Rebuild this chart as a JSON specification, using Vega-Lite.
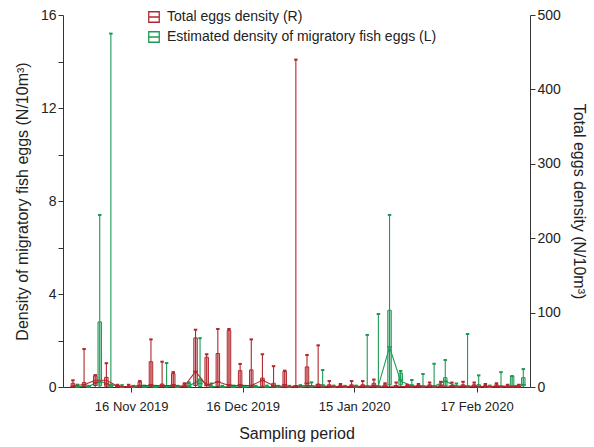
{
  "$schema": "https://vega.github.io/schema/vega-lite/v6.json",
  "width": 467,
  "height": 372,
  "autosize": "none",
  "padding": {"left": 63, "top": 15, "right": 64, "bottom": 60},
  "background": "white",
  "datasets": {
    "eggs": [
      {"d": "2019-11-01", "s": "R", "lo": 0, "q1": 0, "md": 1, "q3": 5, "hi": 9, "mn": 2},
      {"d": "2019-11-04", "s": "R", "lo": 0, "q1": 1, "md": 3, "q3": 6, "hi": 51, "mn": 3},
      {"d": "2019-11-07", "s": "R", "lo": 0, "q1": 2, "md": 6, "q3": 15, "hi": 16, "mn": 9},
      {"d": "2019-11-10", "s": "R", "lo": 0, "q1": 1, "md": 4, "q3": 13, "hi": 32, "mn": 9},
      {"d": "2019-11-13", "s": "R", "lo": 0, "q1": 0, "md": 1, "q3": 2, "hi": 3, "mn": 1},
      {"d": "2019-11-16", "s": "R", "lo": 0, "q1": 0, "md": 0.5, "q3": 1, "hi": 3, "mn": 0.5},
      {"d": "2019-11-19", "s": "R", "lo": 0, "q1": 0, "md": 2, "q3": 7, "hi": 8, "mn": 2},
      {"d": "2019-11-22", "s": "R", "lo": 0, "q1": 1, "md": 3, "q3": 34, "hi": 64, "mn": 2},
      {"d": "2019-11-25", "s": "R", "lo": 0, "q1": 0, "md": 2, "q3": 4, "hi": 34, "mn": 2},
      {"d": "2019-11-28", "s": "R", "lo": 0, "q1": 1, "md": 3, "q3": 18, "hi": 20, "mn": 2},
      {"d": "2019-12-01", "s": "R", "lo": 0, "q1": 0, "md": 1, "q3": 3, "hi": 5, "mn": 1},
      {"d": "2019-12-04", "s": "R", "lo": 0, "q1": 2, "md": 21, "q3": 66, "hi": 77, "mn": 21},
      {"d": "2019-12-07", "s": "R", "lo": 0, "q1": 3, "md": 2, "q3": 40, "hi": 44, "mn": 2},
      {"d": "2019-12-10", "s": "R", "lo": 0, "q1": 1, "md": 7, "q3": 45, "hi": 78, "mn": 7},
      {"d": "2019-12-13", "s": "R", "lo": 0, "q1": 1, "md": 3, "q3": 76, "hi": 78, "mn": 2},
      {"d": "2019-12-16", "s": "R", "lo": 0, "q1": 1, "md": 3, "q3": 22, "hi": 31, "mn": 2},
      {"d": "2019-12-19", "s": "R", "lo": 0, "q1": 0, "md": 2, "q3": 23, "hi": 64, "mn": 2},
      {"d": "2019-12-22", "s": "R", "lo": 0, "q1": 1, "md": 9, "q3": 12, "hi": 44, "mn": 9},
      {"d": "2019-12-25", "s": "R", "lo": 0, "q1": 0, "md": 2, "q3": 5, "hi": 28, "mn": 2},
      {"d": "2019-12-28", "s": "R", "lo": 0, "q1": 1, "md": 3, "q3": 21, "hi": 22, "mn": 1},
      {"d": "2019-12-31", "s": "R", "lo": 0, "q1": 0, "md": 1, "q3": 2, "hi": 440, "mn": 1},
      {"d": "2020-01-03", "s": "R", "lo": 0, "q1": 2, "md": 5, "q3": 27, "hi": 43, "mn": 2},
      {"d": "2020-01-06", "s": "R", "lo": 0, "q1": 1, "md": 3, "q3": 4, "hi": 56, "mn": 1},
      {"d": "2020-01-09", "s": "R", "lo": 0, "q1": 0, "md": 1, "q3": 3, "hi": 8, "mn": 1},
      {"d": "2020-01-12", "s": "R", "lo": 0, "q1": 0, "md": 0.5, "q3": 2, "hi": 4, "mn": 0.5},
      {"d": "2020-01-15", "s": "R", "lo": 0, "q1": 0, "md": 1, "q3": 3, "hi": 8, "mn": 1},
      {"d": "2020-01-18", "s": "R", "lo": 0, "q1": 0, "md": 1, "q3": 3, "hi": 8, "mn": 1},
      {"d": "2020-01-21", "s": "R", "lo": 0, "q1": 0, "md": 2, "q3": 5, "hi": 10, "mn": 1},
      {"d": "2020-01-24", "s": "R", "lo": 0, "q1": 0, "md": 1, "q3": 3, "hi": 5, "mn": 1},
      {"d": "2020-01-27", "s": "R", "lo": 0, "q1": 0, "md": 1, "q3": 2, "hi": 6, "mn": 1},
      {"d": "2020-01-30", "s": "R", "lo": 0, "q1": 0, "md": 0.5, "q3": 2, "hi": 3, "mn": 0.5},
      {"d": "2020-02-02", "s": "R", "lo": 0, "q1": 0, "md": 1, "q3": 2, "hi": 4, "mn": 1},
      {"d": "2020-02-05", "s": "R", "lo": 0, "q1": 0, "md": 1, "q3": 3, "hi": 6, "mn": 1},
      {"d": "2020-02-08", "s": "R", "lo": 0, "q1": 0, "md": 1, "q3": 3, "hi": 7, "mn": 1},
      {"d": "2020-02-11", "s": "R", "lo": 0, "q1": 0, "md": 1, "q3": 2, "hi": 6, "mn": 1},
      {"d": "2020-02-14", "s": "R", "lo": 0, "q1": 0, "md": 1, "q3": 3, "hi": 7, "mn": 1},
      {"d": "2020-02-17", "s": "R", "lo": 0, "q1": 0, "md": 1, "q3": 3, "hi": 6, "mn": 1},
      {"d": "2020-02-20", "s": "R", "lo": 0, "q1": 0, "md": 0.5, "q3": 2, "hi": 4, "mn": 0.5},
      {"d": "2020-02-23", "s": "R", "lo": 0, "q1": 0, "md": 1, "q3": 3, "hi": 5, "mn": 1},
      {"d": "2020-02-26", "s": "R", "lo": 0, "q1": 0, "md": 0.5, "q3": 1, "hi": 3, "mn": 0.5},
      {"d": "2020-02-29", "s": "R", "lo": 0, "q1": 0, "md": 0.5, "q3": 1, "hi": 3, "mn": 0.5},

      {"d": "2019-11-01", "s": "L", "lo": 0, "q1": 0, "md": 0, "q3": 0.03, "hi": 0.1, "mn": 0.02},
      {"d": "2019-11-04", "s": "L", "lo": 0, "q1": 0, "md": 0, "q3": 0.02, "hi": 0.05, "mn": 0.02},
      {"d": "2019-11-07", "s": "L", "lo": 0, "q1": 0.05, "md": 0.2, "q3": 2.8, "hi": 7.4, "mn": 0.25},
      {"d": "2019-11-10", "s": "L", "lo": 0, "q1": 0, "md": 0.05, "q3": 0.1, "hi": 15.2, "mn": 0.1},
      {"d": "2019-11-13", "s": "L", "lo": 0, "q1": 0, "md": 0, "q3": 0.02, "hi": 0.08, "mn": 0.02},
      {"d": "2019-11-16", "s": "L", "lo": 0, "q1": 0, "md": 0, "q3": 0.02, "hi": 0.05, "mn": 0.01},
      {"d": "2019-11-19", "s": "L", "lo": 0, "q1": 0, "md": 0, "q3": 0.02, "hi": 0.06, "mn": 0.02},
      {"d": "2019-11-22", "s": "L", "lo": 0, "q1": 0, "md": 0, "q3": 0.02, "hi": 0.05, "mn": 0.01},
      {"d": "2019-11-25", "s": "L", "lo": 0, "q1": 0, "md": 0.02, "q3": 0.05, "hi": 1.03, "mn": 0.03},
      {"d": "2019-11-28", "s": "L", "lo": 0, "q1": 0, "md": 0, "q3": 0.02, "hi": 0.05, "mn": 0.01},
      {"d": "2019-12-01", "s": "L", "lo": 0, "q1": 0, "md": 0.02, "q3": 0.15, "hi": 0.2, "mn": 0.05},
      {"d": "2019-12-04", "s": "L", "lo": 0, "q1": 0.02, "md": 0.15, "q3": 0.35, "hi": 2.1, "mn": 0.3},
      {"d": "2019-12-07", "s": "L", "lo": 0, "q1": 0, "md": 0.02, "q3": 0.05, "hi": 0.15, "mn": 0.03},
      {"d": "2019-12-10", "s": "L", "lo": 0, "q1": 0, "md": 0, "q3": 0.02, "hi": 0.05, "mn": 0.01},
      {"d": "2019-12-13", "s": "L", "lo": 0, "q1": 0, "md": 0, "q3": 0.02, "hi": 0.06, "mn": 0.01},
      {"d": "2019-12-16", "s": "L", "lo": 0, "q1": 0, "md": 0, "q3": 0.02, "hi": 0.05, "mn": 0.01},
      {"d": "2019-12-19", "s": "L", "lo": 0, "q1": 0, "md": 0, "q3": 0.02, "hi": 0.05, "mn": 0.01},
      {"d": "2019-12-22", "s": "L", "lo": 0, "q1": 0, "md": 0, "q3": 0.02, "hi": 0.06, "mn": 0.01},
      {"d": "2019-12-25", "s": "L", "lo": 0, "q1": 0, "md": 0, "q3": 0.02, "hi": 0.05, "mn": 0.01},
      {"d": "2019-12-28", "s": "L", "lo": 0, "q1": 0, "md": 0, "q3": 0.02, "hi": 0.05, "mn": 0.01},
      {"d": "2019-12-31", "s": "L", "lo": 0, "q1": 0, "md": 0, "q3": 0.02, "hi": 0.08, "mn": 0.01},
      {"d": "2020-01-03", "s": "L", "lo": 0, "q1": 0, "md": 0.02, "q3": 0.05, "hi": 0.2, "mn": 0.02},
      {"d": "2020-01-06", "s": "L", "lo": 0, "q1": 0, "md": 0.02, "q3": 0.1, "hi": 0.73, "mn": 0.03},
      {"d": "2020-01-09", "s": "L", "lo": 0, "q1": 0, "md": 0, "q3": 0.02, "hi": 0.06, "mn": 0.01},
      {"d": "2020-01-12", "s": "L", "lo": 0, "q1": 0, "md": 0, "q3": 0.02, "hi": 0.05, "mn": 0.01},
      {"d": "2020-01-15", "s": "L", "lo": 0, "q1": 0, "md": 0, "q3": 0.02, "hi": 0.06, "mn": 0.01},
      {"d": "2020-01-18", "s": "L", "lo": 0, "q1": 0, "md": 0.02, "q3": 0.05, "hi": 2.24, "mn": 0.03},
      {"d": "2020-01-21", "s": "L", "lo": 0, "q1": 0, "md": 0.02, "q3": 0.05, "hi": 3.14, "mn": 0.05},
      {"d": "2020-01-24", "s": "L", "lo": 0, "q1": 0.1, "md": 1.72, "q3": 3.3, "hi": 7.4, "mn": 1.72},
      {"d": "2020-01-27", "s": "L", "lo": 0, "q1": 0.1, "md": 0.3, "q3": 0.6, "hi": 0.69, "mn": 0.25},
      {"d": "2020-01-30", "s": "L", "lo": 0, "q1": 0, "md": 0.05, "q3": 0.1, "hi": 0.3, "mn": 0.05},
      {"d": "2020-02-02", "s": "L", "lo": 0, "q1": 0, "md": 0.02, "q3": 0.05, "hi": 0.56, "mn": 0.03},
      {"d": "2020-02-05", "s": "L", "lo": 0, "q1": 0, "md": 0.02, "q3": 0.05, "hi": 1.0, "mn": 0.03},
      {"d": "2020-02-08", "s": "L", "lo": 0, "q1": 0.05, "md": 0.25, "q3": 0.4, "hi": 1.16, "mn": 0.25},
      {"d": "2020-02-11", "s": "L", "lo": 0, "q1": 0, "md": 0.02, "q3": 0.05, "hi": 0.15, "mn": 0.03},
      {"d": "2020-02-14", "s": "L", "lo": 0, "q1": 0, "md": 0.02, "q3": 0.05, "hi": 2.28, "mn": 0.03},
      {"d": "2020-02-17", "s": "L", "lo": 0, "q1": 0, "md": 0.02, "q3": 0.1, "hi": 0.5, "mn": 0.03},
      {"d": "2020-02-20", "s": "L", "lo": 0, "q1": 0, "md": 0, "q3": 0.02, "hi": 0.06, "mn": 0.01},
      {"d": "2020-02-23", "s": "L", "lo": 0, "q1": 0, "md": 0.02, "q3": 0.05, "hi": 0.64, "mn": 0.03},
      {"d": "2020-02-26", "s": "L", "lo": 0, "q1": 0, "md": 0.05, "q3": 0.47, "hi": 0.47, "mn": 0.05},
      {"d": "2020-02-29", "s": "L", "lo": 0, "q1": 0.05, "md": 0.1, "q3": 0.4, "hi": 0.77, "mn": 0.1}
    ]
  },
  "data": {"name": "eggs"},
  "encoding": {
    "x": {
      "field": "d",
      "type": "temporal",
      "scale": {"type": "utc", "domain": ["2019-10-30", "2020-03-01"]},
      "axis": {
        "values": ["2019-11-16", "2019-12-16", "2020-01-15", "2020-02-17"],
        "format": "%d %b %Y",
        "labelFontSize": 13,
        "labelPadding": 8,
        "titlePadding": 12
      },
      "title": "Sampling period"
    },
    "color": {
      "field": "s",
      "type": "nominal",
      "scale": {"domain": ["R", "L"], "range": ["#b0282e", "#1c9a55"]},
      "legend": {
        "orient": "none",
        "legendX": 84,
        "legendY": -5,
        "title": null,
        "symbolType": "M-1,-1H1V1H-1Z M-1,0H1",
        "symbolSize": 110,
        "symbolStrokeWidth": 1.3,
        "symbolFillColor": "transparent",
        "labelFontSize": 14,
        "labelColor": "#222",
        "labelLimit": 0,
        "labelOffset": 6,
        "rowPadding": 4,
        "labelExpr": "datum.value == 'R' ? 'Total eggs density (R)' : 'Estimated density of migratory fish eggs (L)'"
      }
    }
  },
  "layer": [
    {
      "transform": [{"filter": "datum.s == 'L'"}],
      "layer": [
        {
          "mark": {"type": "rule", "xOffset": 2, "strokeWidth": 1.1},
          "encoding": {
            "y": {"field": "lo", "type": "quantitative", "scale": {"domain": [0, 16]}, "axis": {"orient": "left", "values": [0, 2, 4, 6, 8, 10, 12, 14, 16], "labelExpr": "datum.value % 4 == 0 ? datum.label : ''", "titlePadding": 10}, "title": "Density of migratory fish eggs (N/10m³)"},
            "y2": {"field": "hi"}
          }
        },
        {
          "mark": {"type": "bar", "xOffset": 2, "width": 3.5, "fill": "#1c9a55", "fillOpacity": 0.3, "stroke": "#1c9a55", "strokeOpacity": 1, "strokeWidth": 1},
          "encoding": {
            "color": {"value": "#1c9a55"},
            "y": {"field": "q1", "type": "quantitative", "scale": {"domain": [0, 16]}, "axis": {"orient": "left", "values": [0, 2, 4, 6, 8, 10, 12, 14, 16], "labelExpr": "datum.value % 4 == 0 ? datum.label : ''", "titlePadding": 10}, "title": "Density of migratory fish eggs (N/10m³)"},
            "y2": {"field": "q3"}
          }
        },
        {
          "mark": {"type": "point", "xOffset": 2, "shape": "M-1,0H1", "size": 25, "strokeWidth": 1.5, "filled": false, "opacity": 1},
          "encoding": {
            "y": {"field": "md", "type": "quantitative", "scale": {"domain": [0, 16]}, "axis": {"orient": "left", "values": [0, 2, 4, 6, 8, 10, 12, 14, 16], "labelExpr": "datum.value % 4 == 0 ? datum.label : ''", "titlePadding": 10}, "title": "Density of migratory fish eggs (N/10m³)"}
          }
        },
        {
          "mark": {"type": "point", "xOffset": 2, "shape": "M-1,0H1", "size": 12, "strokeWidth": 2, "filled": false, "opacity": 1},
          "encoding": {
            "y": {"field": "hi", "type": "quantitative", "scale": {"domain": [0, 16]}, "axis": {"orient": "left", "values": [0, 2, 4, 6, 8, 10, 12, 14, 16], "labelExpr": "datum.value % 4 == 0 ? datum.label : ''", "titlePadding": 10}, "title": "Density of migratory fish eggs (N/10m³)"}
          }
        },
        {
          "mark": {"type": "line", "xOffset": 2, "strokeWidth": 1.1},
          "encoding": {
            "y": {"field": "mn", "type": "quantitative", "scale": {"domain": [0, 16]}, "axis": {"orient": "left", "values": [0, 2, 4, 6, 8, 10, 12, 14, 16], "labelExpr": "datum.value % 4 == 0 ? datum.label : ''", "titlePadding": 10}, "title": "Density of migratory fish eggs (N/10m³)"}
          }
        }
      ]
    },
    {
      "transform": [{"filter": "datum.s == 'R'"}],
      "layer": [
        {
          "mark": {"type": "rule", "xOffset": -2.5, "strokeWidth": 1.1},
          "encoding": {
            "y": {"field": "lo", "type": "quantitative", "scale": {"domain": [0, 500]}, "axis": {"orient": "right", "values": [0, 100, 200, 300, 400, 500], "titlePadding": 10}, "title": "Total eggs density (N/10m³)"},
            "y2": {"field": "hi"}
          }
        },
        {
          "mark": {"type": "bar", "xOffset": -2.5, "width": 3.5, "fill": "#b0282e", "fillOpacity": 0.3, "stroke": "#b0282e", "strokeOpacity": 1, "strokeWidth": 1},
          "encoding": {
            "color": {"value": "#b0282e"},
            "y": {"field": "q1", "type": "quantitative", "scale": {"domain": [0, 500]}, "axis": {"orient": "right", "values": [0, 100, 200, 300, 400, 500], "titlePadding": 10}, "title": "Total eggs density (N/10m³)"},
            "y2": {"field": "q3"}
          }
        },
        {
          "mark": {"type": "point", "xOffset": -2.5, "shape": "M-1,0H1", "size": 25, "strokeWidth": 1.5, "filled": false, "opacity": 1},
          "encoding": {
            "y": {"field": "md", "type": "quantitative", "scale": {"domain": [0, 500]}, "axis": {"orient": "right", "values": [0, 100, 200, 300, 400, 500], "titlePadding": 10}, "title": "Total eggs density (N/10m³)"}
          }
        },
        {
          "mark": {"type": "point", "xOffset": -2.5, "shape": "M-1,0H1", "size": 12, "strokeWidth": 2, "filled": false, "opacity": 1},
          "encoding": {
            "y": {"field": "hi", "type": "quantitative", "scale": {"domain": [0, 500]}, "axis": {"orient": "right", "values": [0, 100, 200, 300, 400, 500], "titlePadding": 10}, "title": "Total eggs density (N/10m³)"}
          }
        },
        {
          "mark": {"type": "line", "xOffset": -2.5, "strokeWidth": 1.1},
          "encoding": {
            "y": {"field": "mn", "type": "quantitative", "scale": {"domain": [0, 500]}, "axis": {"orient": "right", "values": [0, 100, 200, 300, 400, 500], "titlePadding": 10}, "title": "Total eggs density (N/10m³)"}
          }
        }
      ]
    }
  ],
  "resolve": {"scale": {"y": "independent"}},
  "config": {
    "font": "Liberation Sans",
    "view": {"stroke": null},
    "axis": {
      "grid": false,
      "domainColor": "#333333",
      "tickColor": "#333333",
      "labelColor": "#222222",
      "titleColor": "#222222",
      "labelFont": "Liberation Sans",
      "titleFont": "Liberation Sans",
      "labelFontSize": 14,
      "titleFontSize": 16,
      "titleFontWeight": "normal",
      "tickSize": 5
    }
  }
}
